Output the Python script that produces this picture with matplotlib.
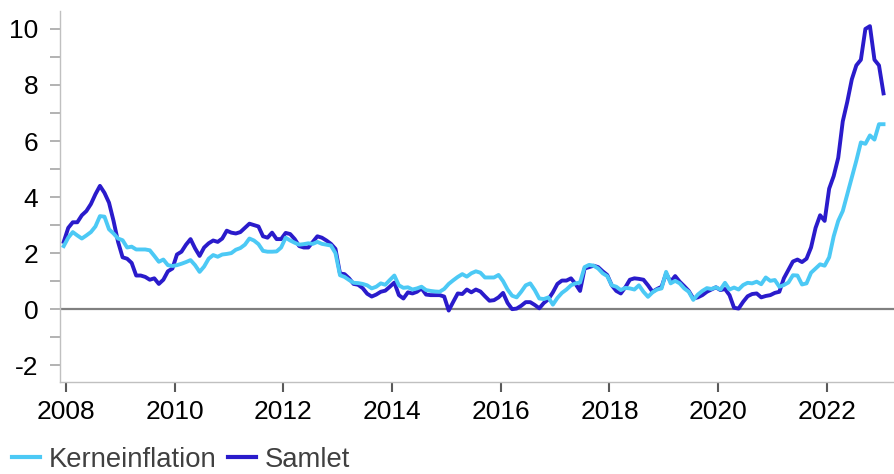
import matplotlib
matplotlib.use("Agg")
import matplotlib.pyplot as plt
from matplotlib.ticker import MultipleLocator, FuncFormatter
import numpy as np
import pandas as pd

plt.rcParams['font.family'] = ['Liberation Sans', 'DejaVu Sans']

# monthly, dec 2007 - jan 2023, pct. y/y
months = pd.period_range('2007-12', '2023-01', freq='M')

samlet = [2.4,
    2.9, 3.1, 3.1, 3.35, 3.5, 3.75, 4.1, 4.4, 4.15, 3.8, 3.15, 2.4,
    1.85, 1.8, 1.65, 1.2, 1.2, 1.15, 1.05, 1.1, 0.9, 1.05, 1.35, 1.45,
    1.95, 2.05, 2.3, 2.5, 2.17, 1.9, 2.2, 2.35, 2.45, 2.4, 2.52, 2.8,
    2.73, 2.7, 2.75, 2.9, 3.05, 3.0, 2.95, 2.6, 2.55, 2.73, 2.5, 2.5,
    2.72, 2.68, 2.5, 2.25, 2.2, 2.2, 2.4, 2.6, 2.55, 2.45, 2.33, 2.15,
    1.27, 1.25, 1.1, 0.9, 0.87, 0.75, 0.55, 0.45, 0.52, 0.62, 0.66, 0.8,
    0.95, 0.5, 0.38, 0.6, 0.56, 0.62, 0.74, 0.52, 0.5, 0.5, 0.5, 0.45,
    -0.05, 0.26, 0.56, 0.54, 0.7, 0.6, 0.7, 0.63, 0.46, 0.3, 0.32, 0.42,
    0.58, 0.22, 0.0, 0.02, 0.12, 0.25, 0.25, 0.15, 0.03, 0.22, 0.35, 0.6,
    0.9, 1.02, 1.02, 1.1, 0.9, 0.65, 1.45, 1.5, 1.55, 1.5, 1.35, 1.22,
    0.85, 0.65, 0.56, 0.78, 1.05, 1.1, 1.08, 1.05, 0.85, 0.62, 0.72, 0.8,
    1.27, 0.98, 1.18, 0.98, 0.82, 0.65, 0.38, 0.42, 0.5, 0.62, 0.7, 0.78,
    0.68, 0.72, 0.5, 0.05, 0.02, 0.26, 0.46, 0.54, 0.56, 0.42, 0.47, 0.5,
    0.58, 0.62, 1.1, 1.4, 1.7, 1.77, 1.68, 1.8, 2.2, 2.9, 3.35, 3.15,
    4.3, 4.75, 5.4, 6.7, 7.4, 8.2, 8.7, 8.9, 10.0, 10.1, 8.9, 8.7,
    7.7]

kerne = [2.25,
    2.55, 2.75, 2.63, 2.52, 2.63, 2.75, 2.95, 3.32, 3.3, 2.85, 2.7, 2.52,
    2.46, 2.2, 2.23, 2.13, 2.13, 2.13, 2.1, 1.9, 1.69, 1.77, 1.57, 1.54,
    1.57, 1.62, 1.68, 1.75, 1.57, 1.33, 1.52, 1.8, 1.93, 1.87, 1.95, 1.97,
    2.0, 2.12, 2.18, 2.3, 2.52, 2.45, 2.32, 2.08, 2.05, 2.05, 2.06, 2.2,
    2.55, 2.45, 2.37, 2.3, 2.32, 2.35, 2.33, 2.4, 2.33, 2.3, 2.27, 2.0,
    1.21, 1.15, 1.04, 0.94, 0.93, 0.9, 0.85, 0.74, 0.8, 0.92, 0.87, 1.04,
    1.2, 0.85, 0.76, 0.78, 0.7, 0.74, 0.8, 0.68, 0.65, 0.63, 0.62, 0.72,
    0.9, 1.03, 1.15, 1.25, 1.16, 1.28, 1.35, 1.3, 1.13, 1.13, 1.13, 1.22,
    1.0, 0.7, 0.48, 0.42, 0.62, 0.85, 0.92, 0.68, 0.38, 0.36, 0.42, 0.16,
    0.4, 0.58, 0.7, 0.85, 0.92, 0.95, 1.5, 1.58, 1.55, 1.45, 1.28, 1.18,
    0.85, 0.8, 0.68, 0.76, 0.74, 0.7, 0.85, 0.62, 0.44, 0.6, 0.7, 0.74,
    1.33, 0.92, 1.01, 0.92, 0.74, 0.62, 0.33, 0.52, 0.65, 0.75, 0.72, 0.78,
    0.7, 0.94, 0.7, 0.77, 0.7, 0.86, 0.94, 0.92, 0.98, 0.89, 1.13, 1.01,
    1.04, 0.8, 0.86, 0.95, 1.21, 1.2, 0.88, 0.92, 1.3, 1.45, 1.6, 1.55,
    1.85, 2.6, 3.15, 3.5, 4.1, 4.7, 5.3, 5.95, 5.9, 6.2, 6.05, 6.6,
    6.6]

# mid-month as decimal year
t = months.year + (months.month - 0.5) / 12

c_kerne = '#4cc9f5'
c_samlet = '#2a1bcb'

fig = plt.figure(figsize=(8.95, 4.74), dpi=100)
ax = fig.add_axes([60/895, 1 - 382/474, 1 - 60/895, (382 - 11)/474])

ax.axhline(0, color='#808080', lw=1.6, zorder=1)
l_s, = ax.plot(t, samlet, color=c_samlet, lw=2.8, zorder=2, label='Samlet')
l_k, = ax.plot(t, kerne, color=c_kerne, lw=2.8, zorder=3, label='Kerneinflation')

ax.set_xlim(2007.89, 2023.253)
ax.set_ylim(-2.6, 10.64)

ax.xaxis.set_major_locator(MultipleLocator(2))
ax.xaxis.set_major_formatter(FuncFormatter(lambda v, p: '%d' % round(v)))
ax.yaxis.set_major_locator(MultipleLocator(2))
ax.yaxis.set_minor_locator(MultipleLocator(1))
ax.yaxis.set_major_formatter(FuncFormatter(lambda v, p: '%d' % round(v)))

for s in ['top', 'right']:
    ax.spines[s].set_visible(False)
for s in ['left', 'bottom']:
    ax.spines[s].set_color('#c0c0c0')
    ax.spines[s].set_linewidth(1.0)

ax.tick_params(axis='y', which='both', length=7, width=1.2, color='#a6a6a6',
               pad=8.5, labelsize=19, labelcolor='black')
ax.tick_params(axis='x', length=7, width=1.5, color='#595959',
               pad=6, labelsize=19, labelcolor='black')

leg = fig.legend([l_k, l_s], ['Kerneinflation', 'Samlet'], loc='center left',
                 bbox_to_anchor=(12/895, 14/474), ncol=2, frameon=False,
                 fontsize=19.8, handlelength=1.02, handletextpad=0.3,
                 columnspacing=0.45, borderpad=0, borderaxespad=0)
for txt in leg.get_texts():
    txt.set_color('#404040')
for h in leg.get_lines():
    h.set_linewidth(3)

fig.savefig('out.png', dpi=100)
